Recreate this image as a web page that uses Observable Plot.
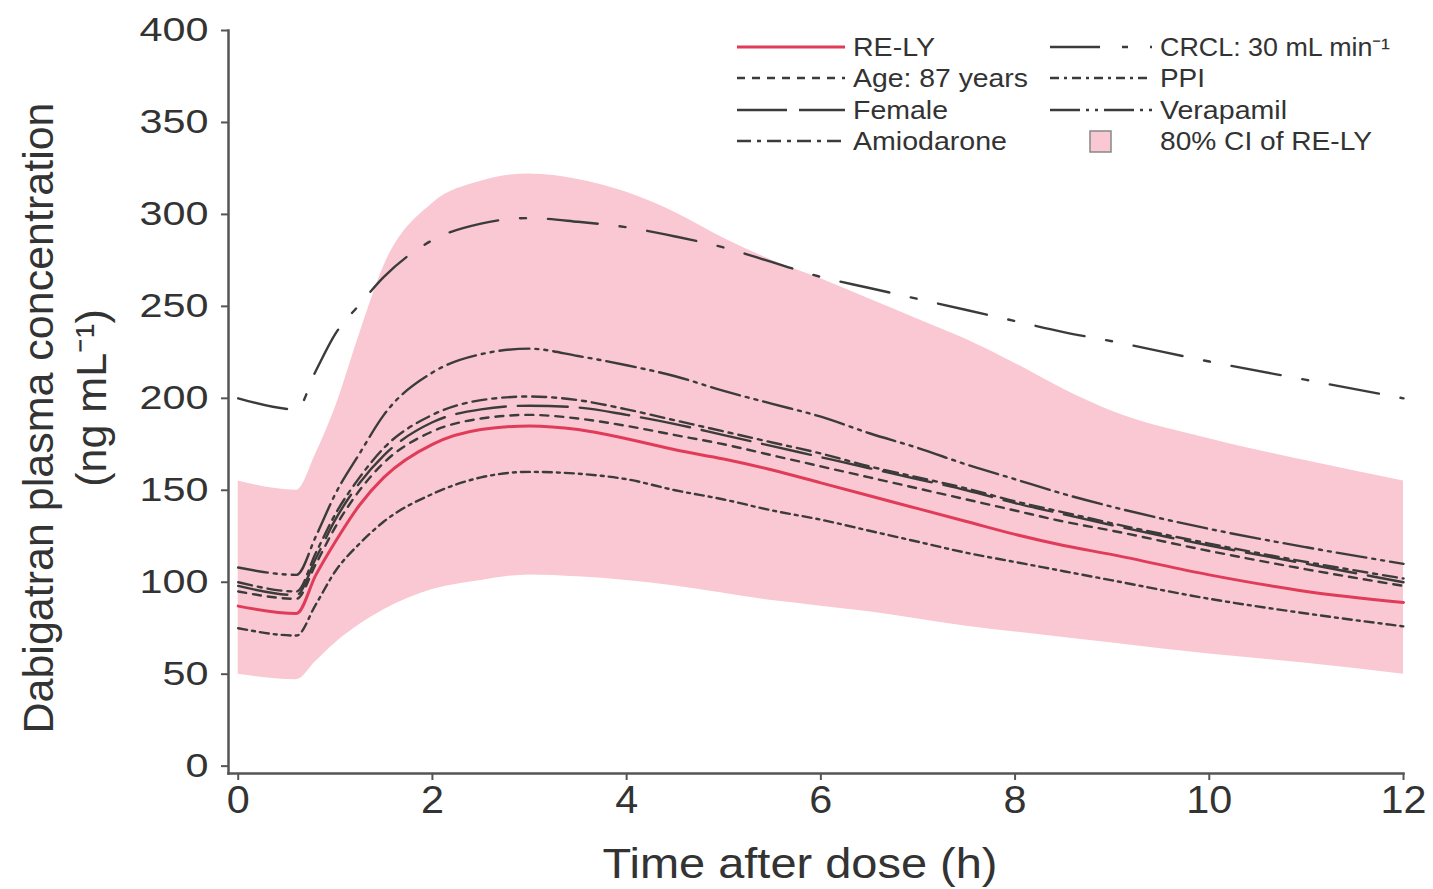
<!DOCTYPE html>
<html><head><meta charset="utf-8">
<script src="https://cdn.jsdelivr.net/npm/d3@7"></script>
<script src="https://cdn.jsdelivr.net/npm/@observablehq/plot@0.6"></script>
<style>
html,body{margin:0;padding:0;background:#fff;}
#chart{position:relative;width:1433px;height:889px;}
</style></head><body><div id="chart"></div>
<script>
// ---- data ----
const times        = [0, 0.6, 0.8, 1, 1.25, 1.5, 2, 2.5, 3, 3.5, 4, 4.5, 5, 5.5, 6, 6.5, 7, 7.5, 8, 8.5, 9, 10, 11, 12];
const relyValues   = [87, 83, 104, 122, 142, 157, 175, 183, 185, 183, 178, 172, 167, 161, 154, 147, 140, 133, 126, 120, 115, 104, 95, 89];
const age87Values  = [95, 91, 110, 130, 150, 165, 182, 189, 191, 189, 185, 180, 175, 169, 163, 157, 151, 145, 139, 133, 128, 117, 107, 98];
const femaleValues = [98, 93, 113, 134, 154, 169, 187, 194, 196, 195, 191, 186, 180, 174, 168, 162, 156, 150, 143, 137, 131, 120, 110, 100];
const amioValues   = [100, 95, 116, 137, 157, 173, 191, 199, 201, 199, 194, 188, 182, 176, 170, 163, 157, 151, 144, 138, 132, 121, 111, 102];
const crclValues   = [200, 194, 215, 235, 251, 266, 286, 295, 298, 296, 293, 288, 282, 274, 266, 260, 254, 248, 242, 236, 231, 220, 210, 200];
const ppiValues    = [75, 71, 88, 106, 121, 133, 148, 157, 160, 159, 156, 150, 145, 139, 134, 128, 122, 116, 111, 106, 101, 91, 83, 76];
const verapValues  = [108, 104, 125, 148, 170, 191, 214, 224, 227, 223, 218, 212, 204, 197, 190, 181, 173, 164, 156, 148, 141, 129, 119, 110];
const ciLower      = [50, 47, 57, 67, 77, 85, 96, 101, 104, 103, 101, 98, 94, 90, 87, 84, 80, 76, 73, 70, 67, 61, 56, 50];
const ciUpper      = [155, 150, 170, 195, 235, 272, 306, 318, 322, 319, 312, 301, 287, 275, 265, 254, 243, 232, 219, 205, 193, 178, 166, 155];

const xTicks = [0, 2, 4, 6, 8, 10, 12];
const yTicks = [0, 50, 100, 150, 200, 250, 300, 350, 400];

const seriesNames  = ["RE-LY", "Age: 87 years", "Female", "Amiodarone", "CRCL: 30 mL min\u207B\u00B9", "PPI", "Verapamil"];
const seriesValues = [relyValues, age87Values, femaleValues, amioValues, crclValues, ppiValues, verapValues];
const seriesDash   = [null, "8,7", "50,12", "14,6,4,6", "50,22,6,22", "9,5,3,5", "30,6,3,6,3,6"];
const ciName = "80% CI of RE-LY";

const xTitle = "Time after dose (h)";
const yTitle1 = "Dabigatran plasma concentration";
const yTitle2 = "(ng mL\u207B\u00B9)";

// ---- styling ----
const RED = "#e03c5a", GRAY = "#3b3b3b", PINK = "#f9c8d2", AXIS = "#555";
const FONT = "'Liberation Sans', Arial, Helvetica, sans-serif";

const rows = seriesNames.flatMap((name, i) => times.map((t, j) => ({name, t, v: seriesValues[i][j]})));
const band = times.map((t, j) => ({t, lo: ciLower[j], hi: ciUpper[j]}));

const xMin = -0.1, xMax = 12, yMin = -4, yMax = 400;

const grayMarks = seriesNames.slice(1).map((name, k) =>
  Plot.line(rows.filter(d => d.name === name), {
    x: "t", y: "v", stroke: GRAY, strokeWidth: 2.4,
    strokeDasharray: seriesDash[k + 1], curve: "monotone-x"
  }));

const chart = Plot.plot({
  width: 1433, height: 889,
  marginLeft: 228, marginRight: 30, marginTop: 30, marginBottom: 116,
  style: {fontFamily: FONT, background: "#fff", color: "#333"},
  x: {domain: [xMin, xMax]},
  y: {domain: [yMin, yMax]},
  marks: [
    Plot.areaY(band, {x: "t", y1: "lo", y2: "hi", fill: PINK, curve: "monotone-x"}),
    ...grayMarks,
    Plot.line(rows.filter(d => d.name === seriesNames[0]), {x: "t", y: "v", stroke: RED, strokeWidth: 3, curve: "monotone-x"}),
    Plot.frame({anchor: "left", stroke: AXIS, strokeWidth: 2.5}),
    Plot.frame({anchor: "bottom", stroke: AXIS, strokeWidth: 2.5}),
    Plot.axisY(yTicks, {tickSize: 7, tickPadding: 13, fontSize: 33, label: null, stroke: AXIS, strokeWidth: 2, fill: "#333"}),
    Plot.axisX(xTicks, {tickSize: 7, tickPadding: 6, fontSize: 38, label: null, stroke: AXIS, strokeWidth: 2, fill: "#333"})
  ]
});
document.getElementById("chart").appendChild(chart);

const svg = d3.select(chart);
// widen horizontal text to match the stretched reference
svg.selectAll('g[aria-label="y-axis tick label"] text').each(function() {
  const n = this.textContent.length; this.setAttribute("textLength", 23 * n); this.setAttribute("lengthAdjust", "spacingAndGlyphs");
});
svg.selectAll('g[aria-label="x-axis tick label"] text').each(function() {
  const n = this.textContent.length; this.setAttribute("textLength", 23 * n); this.setAttribute("lengthAdjust", "spacingAndGlyphs");
});

// axis titles
svg.append("text").attr("x", 800).attr("y", 878).attr("text-anchor", "middle")
  .attr("font-size", 42).attr("fill", "#333").attr("font-family", FONT)
  .attr("textLength", 395).attr("lengthAdjust", "spacingAndGlyphs").text(xTitle);
svg.append("text").attr("transform", "translate(53,418) rotate(-90)").attr("text-anchor", "middle")
  .attr("font-size", 43).attr("fill", "#333").attr("font-family", FONT).text(yTitle1);
svg.append("text").attr("transform", "translate(106,398) rotate(-90)").attr("text-anchor", "middle")
  .attr("font-size", 43).attr("fill", "#333").attr("font-family", FONT).text(yTitle2);

// legend
const legendCols = [{sx: 737, ex: 845, tx: 853}, {sx: 1050, ex: 1152, tx: 1160}];
const legendRowY = [47, 78, 110, 141];
const legendWidths = [82, 175, 95, 154, 230, 45, 127, 212];
const legendEntries = seriesNames.map((name, i) => ({name, dash: seriesDash[i], stroke: i === 0 ? RED : GRAY, w: i === 0 ? 3 : 2.4, kind: "line"}))
  .concat([{name: ciName, kind: "box"}]);
const lg = svg.append("g").attr("font-family", FONT).attr("text-anchor", "start");
legendEntries.forEach((e, i) => {
  const col = legendCols[Math.floor(i / 4)], y = legendRowY[i % 4];
  if (e.kind === "line") {
    lg.append("line").attr("x1", col.sx).attr("x2", col.ex).attr("y1", y).attr("y2", y)
      .attr("stroke", e.stroke).attr("stroke-width", e.w).attr("stroke-dasharray", e.dash);
  } else {
    lg.append("rect").attr("x", 1090).attr("y", y - 10).attr("width", 21).attr("height", 21)
      .attr("fill", PINK).attr("stroke", "#888").attr("stroke-width", 1.5);
  }
  lg.append("text").attr("x", col.tx).attr("y", y).attr("dy", "0.35em").attr("font-size", 25).attr("fill", "#333")
    .attr("text-anchor", "start")
    .attr("textLength", legendWidths[i]).attr("lengthAdjust", "spacingAndGlyphs").text(e.name);
});
</script></body></html>
